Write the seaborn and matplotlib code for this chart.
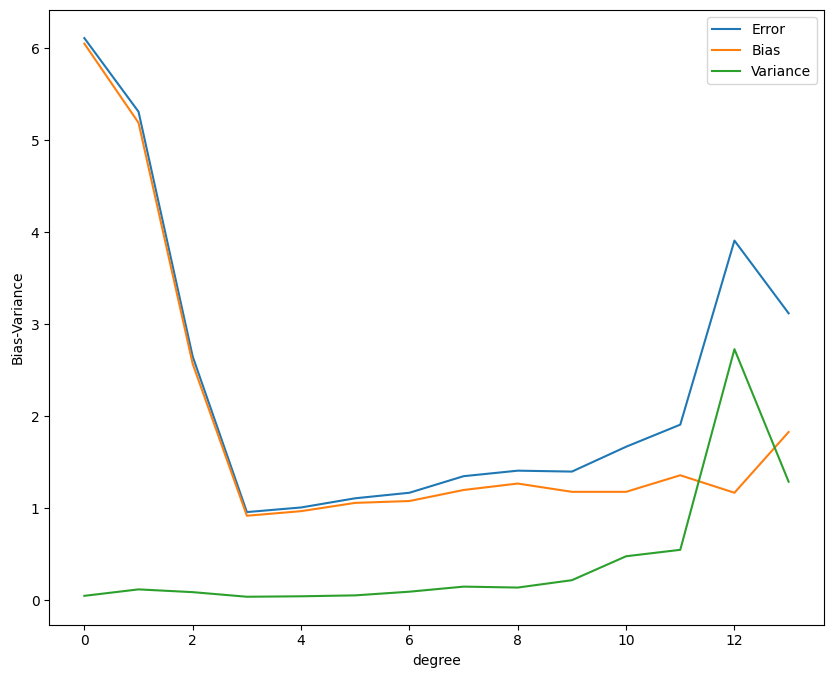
import matplotlib
matplotlib.use("Agg")
import matplotlib.pyplot as plt
import seaborn as sns
import pandas as pd

degree = list(range(14))
error = [6.11, 5.31, 2.65, 0.96, 1.01, 1.11, 1.17, 1.35, 1.41, 1.40, 1.67, 1.91, 3.91, 3.12]
bias = [6.05, 5.19, 2.57, 0.92, 0.97, 1.06, 1.08, 1.20, 1.27, 1.18, 1.18, 1.36, 1.17, 1.83]
variance = [0.05, 0.12, 0.09, 0.04, 0.045, 0.055, 0.095, 0.15, 0.14, 0.22, 0.48, 0.55, 2.73, 1.29]

df = pd.DataFrame({"degree": degree, "Error": error, "Bias": bias, "Variance": variance})
long = df.melt(id_vars="degree", var_name="kind", value_name="val")

fig, ax = plt.subplots(figsize=(8.33, 6.79), dpi=100)
sns.lineplot(data=long, x="degree", y="val", hue="kind", ax=ax)
ax.legend(title=None, loc="upper right")
ax.set_xlabel("degree")
ax.set_ylabel("Bias-Variance")
fig.subplots_adjust(left=0.059, right=0.989, top=0.985, bottom=0.08)
fig.savefig("out.png", dpi=100)
